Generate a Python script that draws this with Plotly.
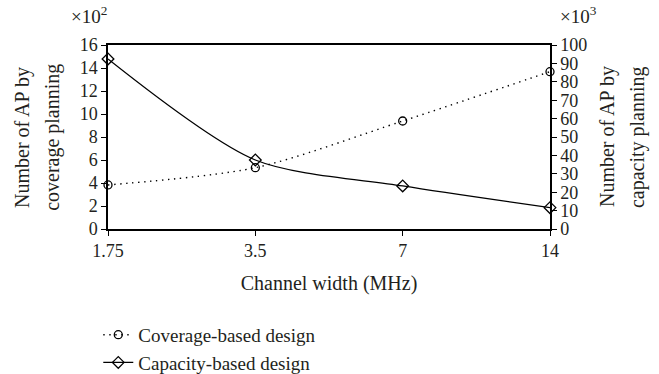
import plotly.graph_objects as go

categories = ["1.75", "3.5", "7", "14"]
coverage = [3.83, 5.33, 9.39, 13.68]      # x10^2
capacity = [92.4, 37.5, 23.4, 11.6]       # x10^3
left_ticks = [0, 2, 4, 6, 8, 10, 12, 14, 16]
right_ticks = [0, 10, 20, 30, 40, 50, 60, 70, 80, 90, 100]

FONT = "Liberation Serif"
TXT = "#231f20"
fig = go.Figure()
fig.add_trace(go.Scatter(
    x=categories, y=coverage, name="Coverage-based design", mode="lines+markers",
    line=dict(color="black", width=1.4, dash="1.4px,4.6px", shape="spline", smoothing=0.8),
    marker=dict(symbol="circle-open", size=8, color="black", line=dict(width=1.3)),
    yaxis="y", cliponaxis=False))
fig.add_trace(go.Scatter(
    x=categories, y=capacity, name="Capacity-based design", mode="lines+markers",
    line=dict(color="black", width=1.3, shape="spline", smoothing=0.8),
    marker=dict(symbol="diamond-open", size=9, color="black", line=dict(width=1.3)),
    yaxis="y2", cliponaxis=False))

ax_common = dict(showline=True, linecolor="black", linewidth=1.5, ticks="outside",
                 ticklen=5, tickcolor="black", showgrid=False, zeroline=False,
                 tickfont=dict(size=18), automargin=False)

def vtitle(text, x):
    return dict(text=text, xref="paper", yref="paper", x=x, y=0.5, xanchor="center",
                yanchor="middle", textangle=-90, showarrow=False, font=dict(size=20))

fig.update_layout(
    width=659, height=374,
    margin=dict(l=108, r=109, t=45, b=145, autoexpand=False),
    plot_bgcolor="white", paper_bgcolor="white",
    font=dict(family=FONT, size=18, color=TXT),
    showlegend=True,
    legend=dict(x=-0.022, y=-0.472, xanchor="left", yanchor="top", orientation="v",
                font=dict(size=19), tracegroupgap=0,
                bgcolor="rgba(0,0,0,0)"),
    xaxis=dict(type="category", range=[0, 3], mirror=True,
               title=dict(text="Channel width (MHz)", font=dict(size=20), standoff=16),
               **ax_common),
    yaxis=dict(range=[0, 16], tickvals=left_ticks, **ax_common),
    yaxis2=dict(range=[0, 100], tickvals=right_ticks, overlaying="y", side="right",
                **ax_common),
    annotations=[
        dict(text="×10<sup>2</sup>", xref="paper", yref="paper", x=-0.088, y=1.085,
             xanchor="left", yanchor="bottom", showarrow=False, font=dict(size=19)),
        dict(text="×10<sup>3</sup>", xref="paper", yref="paper", x=1.018, y=1.085,
             xanchor="left", yanchor="bottom", showarrow=False, font=dict(size=19)),
        vtitle("Number of AP by", -0.1946),
        vtitle("coverage planning", -0.127),
        vtitle("Number of AP by", 1.129),
        vtitle("capacity planning", 1.197),
    ],
)
fig.write_html("out.html", config={"displayModeBar": False},
               post_script="document.body.style.margin='0';")
